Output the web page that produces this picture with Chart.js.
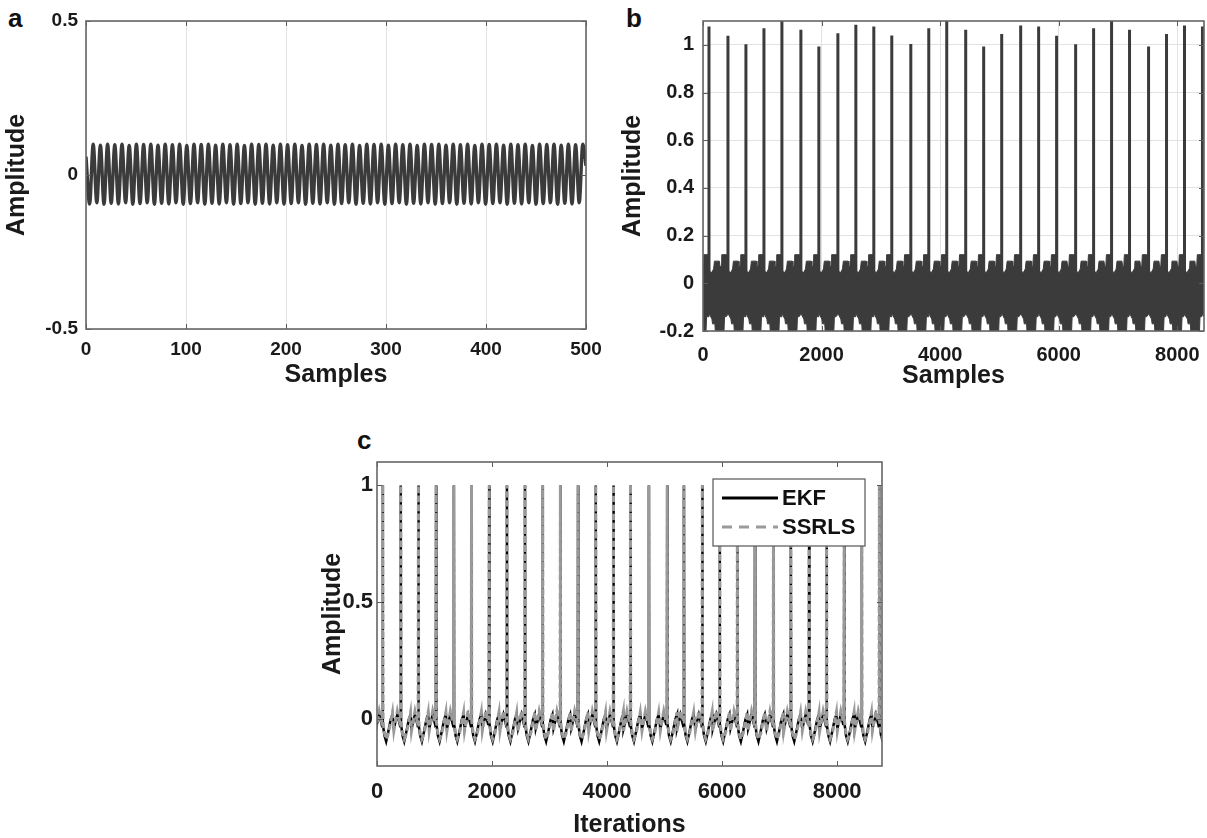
<!DOCTYPE html>
<html>
<head>
<meta charset="utf-8">
<script src="https://cdn.jsdelivr.net/npm/chart.js@4.4.1/dist/chart.umd.min.js"></script>
<style>
  body { margin: 0; background: #fff; }
  #pagina { position: relative; width: 1207px; height: 838px; overflow: hidden; font-family: 'Liberation Sans', Arial, sans-serif; }
  .painel { position: absolute; }
  .letra { position: absolute; font-weight: bold; font-size: 26px; color: #111; line-height: 1; }
</style>
</head>
<body>
<div id="pagina">
  <div class="letra" style="left:8px;top:5px">a</div>
  <div class="letra" style="left:626px;top:5px">b</div>
  <div class="letra" style="left:357px;top:427px">c</div>
  <div class="painel" style="left:0;top:0;width:614px;height:390px"><canvas id="graficoA"></canvas></div>
  <div class="painel" style="left:617px;top:0;width:590px;height:390px"><canvas id="graficoB"></canvas></div>
  <div class="painel" style="left:318px;top:440px;width:572px;height:398px"><canvas id="graficoC"></canvas></div>
</div>
<script>
// ---- painel a: senoide (extremos) ----
const aX = [
  0, 3.6, 7.2, 10.8, 14.4, 18, 21.6, 25.2, 28.8, 32.4,
  36, 39.6, 43.2, 46.8, 50.4, 54, 57.6, 61.2, 64.8, 68.4,
  72, 75.6, 79.2, 82.8, 86.4, 90, 93.6, 97.2, 100.8, 104.4,
  108, 111.6, 115.2, 118.8, 122.4, 126, 129.6, 133.2, 136.8, 140.4,
  144, 147.6, 151.2, 154.8, 158.4, 162, 165.6, 169.2, 172.8, 176.4,
  180, 183.6, 187.2, 190.8, 194.4, 198, 201.6, 205.2, 208.8, 212.4,
  216, 219.6, 223.2, 226.8, 230.4, 234, 237.6, 241.2, 244.8, 248.4,
  252, 255.6, 259.2, 262.8, 266.4, 270, 273.6, 277.2, 280.8, 284.4,
  288, 291.6, 295.2, 298.8, 302.4, 306, 309.6, 313.2, 316.8, 320.4,
  324, 327.6, 331.2, 334.8, 338.4, 342, 345.6, 349.2, 352.8, 356.4,
  360, 363.6, 367.2, 370.8, 374.4, 378, 381.6, 385.2, 388.8, 392.4,
  396, 399.6, 403.2, 406.8, 410.4, 414, 417.6, 421.2, 424.8, 428.4,
  432, 435.6, 439.2, 442.8, 446.4, 450, 453.6, 457.2, 460.8, 464.4,
  468, 471.6, 475.2, 478.8, 482.4, 486, 489.6, 493.2, 496.8, 500
];
const aY = [
  0.06, -0.094, 0.1, -0.09, 0.097, -0.095, 0.1, -0.092, 0.098, -0.094,
  0.1, -0.09, 0.096, -0.095, 0.1, -0.093, 0.099, -0.09, 0.1, -0.095,
  0.097, -0.092, 0.1, -0.094, 0.098, -0.09, 0.1, -0.095, 0.096, -0.093,
  0.1, -0.09, 0.099, -0.095, 0.1, -0.092, 0.097, -0.094, 0.1, -0.09,
  0.098, -0.095, 0.1, -0.093, 0.096, -0.09, 0.1, -0.095, 0.099, -0.092,
  0.1, -0.094, 0.097, -0.09, 0.1, -0.095, 0.098, -0.093, 0.1, -0.09,
  0.096, -0.095, 0.1, -0.092, 0.099, -0.094, 0.1, -0.09, 0.097, -0.095,
  0.1, -0.093, 0.098, -0.09, 0.1, -0.095, 0.096, -0.092, 0.1, -0.094,
  0.099, -0.09, 0.1, -0.095, 0.097, -0.093, 0.1, -0.09, 0.098, -0.095,
  0.1, -0.092, 0.096, -0.094, 0.1, -0.09, 0.099, -0.095, 0.1, -0.093,
  0.097, -0.09, 0.1, -0.095, 0.098, -0.092, 0.1, -0.094, 0.096, -0.09,
  0.1, -0.095, 0.099, -0.093, 0.1, -0.09, 0.097, -0.095, 0.1, -0.092,
  0.098, -0.094, 0.1, -0.09, 0.096, -0.095, 0.1, -0.093, 0.099, -0.09,
  0.1, -0.095, 0.097, -0.092, 0.1, -0.094, 0.098, -0.09, 0.1, 0.03
];
const aTicksX = [0, 100, 200, 300, 400, 500];
const aTicksY = [-0.5, 0, 0.5];

// ---- painel b: picos e contorno da faixa densa ----
const bPicoX = [101, 421, 724, 1028, 1331, 1651, 1954, 2275, 2578, 2881, 3184, 3505, 3808, 4111,
                4431, 4734, 5038, 5358, 5661, 5964, 6285, 6588, 6891, 7194, 7515, 7818, 8121, 8424];
const bPicoY = [1.077, 1.038, 1.003, 1.07, 1.13, 1.063, 0.993, 1.049, 1.084, 1.077, 1.039, 1.004, 1.07, 1.13,
                1.063, 0.993, 1.046, 1.081, 1.077, 1.038, 1.003, 1.07, 1.13, 1.063, 0.993, 1.046, 1.081, 1.077];
// deslocamento (amostras) depois de cada pico
const bSupDesl = [0, 12, 45, 78, 92, 175, 186, 206, 216, 290];
const bSupVal  = [0.12, 0.05, 0.045, 0.06, 0.093, 0.093, 0.07, 0.07, 0.12, 0.12];
const bInfDesl = [0, 8, 50, 60, 100, 110, 250, 262, 290];
const bInfVal  = [-0.13, -0.13, -0.15, -0.17, -0.17, -0.22, -0.22, -0.14, -0.14];
const bTicksX = [0, 2000, 4000, 6000, 8000];
const bTicksY = [-0.2, 0, 0.2, 0.4, 0.6, 0.8, 1];

// ---- painel c: EKF x SSRLS ----
const cPicoX = [99, 413, 720, 1028, 1336, 1643, 1951, 2259, 2573, 2880, 3188, 3496, 3803, 4111,
                4407, 4727, 5046, 5336, 5656, 5958, 6266, 6572, 6893, 7194, 7514, 7817, 8124, 8427, 8734];
const cDesl  = [-120, -60, -20, -5, 0, 5, 30, 60, 100, 140, 170];
const cEkf   = [-0.04, 0.02, -0.02, -0.01, 1, -0.02, -0.07, -0.095, -0.05, 0, 0.02];
const cSsrls = [-0.05, 0.035, -0.01, 0, 1, -0.01, -0.06, -0.085, -0.06, -0.01, 0.03];
const cTicksX = [0, 2000, 4000, 6000, 8000];
const cTicksY = [0, 0.5, 1];

const legendaC = ['EKF', 'SSRLS'];

Chart.defaults.font.family = "'Liberation Sans', Arial, sans-serif";
Chart.defaults.font.weight = 'bold';
Chart.defaults.color = '#1a1a1a';
Chart.defaults.animation = false;

function fmt(v) { return String(Math.round(v * 10) / 10); }

function pares(xs, ys) { return xs.map((x, i) => ({ x: x, y: ys[i] })); }

// repete o contorno lido em cada batimento
function porBatida(picos, desl, vals, antes) {
  const lista = [antes].concat(picos);
  const pts = [];
  lista.forEach(p => desl.forEach((d, i) => pts.push({ x: p + d, y: vals[i] })));
  return pts;
}

function eixos(o) {
  return {
    x: {
      type: 'linear', min: o.xMin, max: o.xMax,
      afterBuildTicks: s => { s.ticks = o.ticksX.map(v => ({ value: v })); },
      afterFit: s => { s.height = o.alturaX; s.paddingLeft = 0; s.paddingRight = 0; },
      grid: { display: o.grade, color: '#e2e2e2', drawTicks: false },
      border: { display: false },
      ticks: { autoSkip: false, maxRotation: 0, padding: o.padX, font: { size: o.fonteTick },
               callback: v => String(v) },
      title: { display: true, text: o.tituloX, font: { size: o.fonteTitulo, lineHeight: 1 },
               padding: { top: 0, bottom: o.padTituloX } }
    },
    y: {
      type: 'linear', min: o.yMin, max: o.yMax,
      afterBuildTicks: s => { s.ticks = o.ticksY.map(v => ({ value: v })); },
      afterFit: s => { s.width = o.larguraY; s.paddingTop = 0; s.paddingBottom = 0; },
      grid: { display: o.grade, color: '#e2e2e2', drawTicks: false },
      border: { display: false },
      ticks: { autoSkip: false, padding: o.padY, font: { size: o.fonteTick }, callback: fmt },
      title: { display: true, text: 'Amplitude', font: { size: o.fonteTitulo, lineHeight: 1 },
               padding: { top: o.padTituloY, bottom: 0 } }
    }
  };
}

// moldura estilo MATLAB com marcas para dentro
const moldura = {
  id: 'moldura',
  afterDraw(chart) {
    const { ctx, chartArea: a, scales } = chart;
    ctx.save();
    ctx.strokeStyle = '#5a5a5a';
    ctx.lineWidth = 1;
    ctx.beginPath();
    scales.x.ticks.forEach(t => {
      const px = Math.round(scales.x.getPixelForValue(t.value)) + 0.5;
      ctx.moveTo(px, a.bottom); ctx.lineTo(px, a.bottom - 5);
      ctx.moveTo(px, a.top); ctx.lineTo(px, a.top + 5);
    });
    scales.y.ticks.forEach(t => {
      const py = Math.round(scales.y.getPixelForValue(t.value)) + 0.5;
      ctx.moveTo(a.left, py); ctx.lineTo(a.left + 5, py);
      ctx.moveTo(a.right, py); ctx.lineTo(a.right - 5, py);
    });
    ctx.stroke();
    ctx.lineWidth = 1.6;
    ctx.strokeStyle = '#666';
    ctx.strokeRect(a.left, a.top, a.right - a.left, a.bottom - a.top);
    ctx.restore();
  }
};

// legenda dentro do gráfico c
const legendaCaixa = {
  id: 'legendaCaixa',
  afterDatasetsDraw(chart) {
    const { ctx, chartArea: a } = chart;
    const ds = chart.data.datasets;
    const w = 152, h = 67;
    const x0 = a.right - 17 - w, y0 = a.top + 17;
    ctx.save();
    ctx.fillStyle = '#fff';
    ctx.fillRect(x0, y0, w, h);
    ctx.strokeStyle = '#555';
    ctx.lineWidth = 1.2;
    ctx.strokeRect(x0, y0, w, h);
    ctx.font = "bold 22px 'Liberation Sans', Arial, sans-serif";
    ctx.textBaseline = 'middle';
    ctx.fillStyle = '#111';
    legendaC.forEach((nome, i) => {
      const d = ds.find(k => k.label === nome);
      const ly = y0 + 19 + i * 29;
      ctx.beginPath();
      ctx.strokeStyle = d.borderColor;
      ctx.lineWidth = 3;
      ctx.setLineDash(i ? [10, 7] : []);
      ctx.moveTo(x0 + 9, ly); ctx.lineTo(x0 + 65, ly);
      ctx.stroke();
      ctx.setLineDash([]);
      ctx.fillText(nome, x0 + 69, ly + 1);
    });
    ctx.restore();
  }
};

const base = { responsive: true, maintainAspectRatio: false, devicePixelRatio: 1,
               plugins: { legend: { display: false }, tooltip: { enabled: false } } };

new Chart(document.getElementById('graficoA'), {
  type: 'line',
  data: { datasets: [{
    data: pares(aX, aY), borderColor: '#3b3b3b', borderWidth: 3.4,
    pointRadius: 0, cubicInterpolationMode: 'monotone', fill: false
  }] },
  options: Object.assign({}, base, {
    layout: { padding: { top: 21, right: 28, left: 0, bottom: 0 } },
    scales: eixos({ xMin: 0, xMax: 500, ticksX: aTicksX, yMin: -0.5, yMax: 0.5, ticksY: aTicksY,
                    grade: true, alturaX: 61, larguraY: 86, padX: 9, padY: 8,
                    fonteTick: 19, fonteTitulo: 25, tituloX: 'Samples', padTituloX: 2, padTituloY: 5 })
  }),
  plugins: [moldura]
});

const bPicos = [];
bPicoX.forEach((x, i) => { bPicos.push({ x: x, y: -0.05 }, { x: x, y: bPicoY[i] }, { x: x, y: null }); });

new Chart(document.getElementById('graficoB'), {
  type: 'line',
  data: { datasets: [
    { data: bPicos, borderColor: '#3b3b3b', borderWidth: 3, pointRadius: 0, spanGaps: false, fill: false },
    { data: porBatida(bPicoX, bSupDesl, bSupVal, bPicoX[0] - 303), borderColor: '#3b3b3b', borderWidth: 1,
      pointRadius: 0, fill: false },
    { data: porBatida(bPicoX, bInfDesl, bInfVal, bPicoX[0] - 303), borderColor: '#3b3b3b', borderWidth: 1,
      pointRadius: 0, fill: '-1', backgroundColor: '#3b3b3b' }
  ] },
  options: Object.assign({}, base, {
    layout: { padding: { top: 21, right: 3, left: 0, bottom: 0 } },
    scales: eixos({ xMin: 0, xMax: 8450, ticksX: bTicksX, yMin: -0.2, yMax: 1.1, ticksY: bTicksY,
                    grade: true, alturaX: 59, larguraY: 86, padX: 12, padY: 9,
                    fonteTick: 20, fonteTitulo: 25, tituloX: 'Samples', padTituloX: 1, padTituloY: 4 })
  }),
  plugins: [moldura]
});

new Chart(document.getElementById('graficoC'), {
  type: 'line',
  data: { datasets: [
    { label: legendaC[0], data: porBatida(cPicoX, cDesl, cEkf, cPicoX[0] - 308), borderColor: '#000',
      borderWidth: 2.5, pointRadius: 0, fill: false, order: 2 },
    { label: legendaC[1], data: porBatida(cPicoX, cDesl, cSsrls, cPicoX[0] - 308), borderColor: '#9a9a9a',
      borderWidth: 3, borderDash: [6, 3], pointRadius: 0, fill: false, order: 1 }
  ] },
  options: Object.assign({}, base, {
    layout: { padding: { top: 22, right: 8, left: 0, bottom: 0 } },
    scales: eixos({ xMin: 0, xMax: 8780, ticksX: cTicksX, yMin: -0.2, yMax: 1.1, ticksY: cTicksY,
                    grade: false, alturaX: 72, larguraY: 59, padX: 13, padY: 4,
                    fonteTick: 22, fonteTitulo: 25, tituloX: 'Iterations', padTituloX: 0, padTituloY: 3 })
  }),
  plugins: [legendaCaixa, moldura]
});
</script>
</body>
</html>
